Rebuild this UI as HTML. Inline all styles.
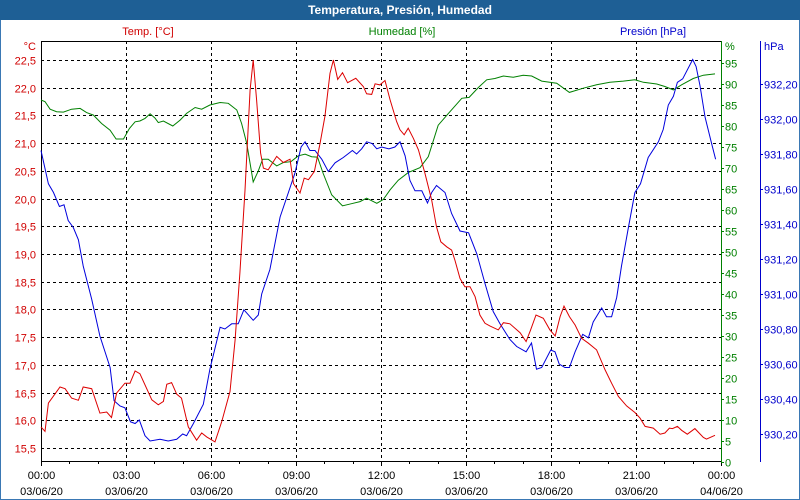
<!DOCTYPE html>
<html><head><meta charset="utf-8"><style>
html,body{margin:0;padding:0;background:#fff}
svg{display:block;font-family:"Liberation Sans","DejaVu Sans",sans-serif}
</style></head><body>
<svg id="c" width="800" height="500" viewBox="0 0 800 500">
<rect x="0" y="0" width="800" height="500" fill="#3a78b4"/>
<rect x="1" y="20" width="798" height="479" fill="#fff"/>
<rect x="0" y="0" width="800" height="20" fill="#1e5f95"/>
<text x="400" y="14" text-anchor="middle" fill="#fff" font-weight="bold" font-size="12">Temperatura, Presión, Humedad</text>
<text x="148" y="35" text-anchor="middle" fill="#d00000" font-size="11">Temp. [°C]</text>
<text x="402" y="35" text-anchor="middle" fill="#008000" font-size="11">Humedad [%]</text>
<text x="653" y="35" text-anchor="middle" fill="#0000cc" font-size="11">Presión [hPa]</text>
<text x="36" y="50" text-anchor="end" fill="#d00000" font-size="11">°C</text>
<text x="725" y="50" fill="#008000" font-size="11">%</text>
<text x="764" y="50" fill="#0000cc" font-size="11">hPa</text>
<g id="grid"></g>
<g id="axes"></g>
<g id="series"></g>
</svg>
<script>
const xTickLabels=["00:00","03:00","06:00","09:00","12:00","15:00","18:00","21:00","00:00"];
const xDateLabels=["03/06/20","03/06/20","03/06/20","03/06/20","03/06/20","03/06/20","03/06/20","03/06/20","04/06/20"];
const tempTicks=[15.5,16,16.5,17,17.5,18,18.5,19,19.5,20,20.5,21,21.5,22,22.5];
const humTicks=[0,5,10,15,20,25,30,35,40,45,50,55,60,65,70,75,80,85,90,95];
const presTicks=[930.2,930.4,930.6,930.8,931.0,931.2,931.4,931.6,931.8,932.0,932.2];

const tempHours=[0,0.14,0.26,0.67,0.85,1.08,1.32,1.49,1.79,2.08,2.32,2.49,2.67,2.96,3.14,3.32,3.49,3.91,4.14,4.32,4.44,4.61,4.79,4.96,5.2,5.49,5.67,5.85,6.14,6.38,6.67,6.85,7.02,7.2,7.38,7.49,7.61,7.75,7.85,8.02,8.32,8.55,8.79,8.91,9.14,9.29,9.44,9.65,9.85,10.02,10.2,10.32,10.47,10.64,10.82,11.11,11.38,11.49,11.67,11.79,11.96,12.14,12.32,12.55,12.67,12.82,12.96,13.14,13.32,13.55,13.79,13.96,14.11,14.32,14.49,14.61,14.79,14.96,15.14,15.32,15.49,15.67,15.85,16.14,16.32,16.55,16.91,17.12,17.28,17.47,17.73,17.96,18.15,18.32,18.46,18.65,18.85,19.08,19.32,19.61,19.91,20.14,20.38,20.67,20.96,21.14,21.32,21.61,21.85,22.02,22.18,22.29,22.46,22.61,22.81,23.08,23.38,23.49,23.79];
const tempValues=[15.88,15.8,16.31,16.6,16.57,16.4,16.36,16.6,16.57,16.13,16.15,16.05,16.49,16.67,16.67,16.89,16.84,16.37,16.28,16.34,16.65,16.68,16.47,16.4,15.88,15.64,15.77,15.7,15.61,15.98,16.52,17.45,18.66,20.15,21.96,22.5,21.78,20.82,20.55,20.52,20.76,20.65,20.71,20.27,20.1,20.37,20.34,20.49,21.0,21.48,22.26,22.5,22.15,22.27,22.09,22.17,22.02,21.89,21.88,22.07,22.05,22.13,21.78,21.39,21.24,21.15,21.27,21.09,20.88,20.46,19.97,19.49,19.22,19.13,19.07,18.89,18.56,18.41,18.41,18.23,17.9,17.75,17.7,17.63,17.76,17.74,17.58,17.42,17.63,17.9,17.84,17.63,17.52,17.87,18.06,17.87,17.72,17.48,17.39,17.27,16.91,16.67,16.43,16.26,16.14,16.04,15.89,15.86,15.75,15.77,15.86,15.85,15.89,15.82,15.75,15.85,15.69,15.66,15.73];

const humHours=[0,0.14,0.32,0.55,0.79,1.08,1.38,1.61,1.85,2.14,2.44,2.65,2.91,3.12,3.32,3.49,3.67,3.85,4.02,4.14,4.32,4.65,4.91,5.14,5.44,5.67,5.96,6.32,6.61,6.91,7.08,7.26,7.49,7.67,7.82,8.02,8.32,8.55,8.82,9.08,9.32,9.55,9.76,9.96,10.26,10.64,10.96,11.26,11.49,11.85,12.08,12.32,12.61,12.96,13.38,13.67,14.02,14.38,14.85,15.11,15.44,15.73,16.02,16.32,16.67,17.02,17.32,17.67,18.2,18.65,19.14,19.61,20.08,20.55,20.96,21.26,21.73,22.02,22.32,22.61,23.02,23.38,23.79];
const humValues=[86.2,85.8,84.0,83.4,83.3,84.0,84.2,83.2,82.6,80.6,79.0,76.9,76.9,79.4,81.0,81.2,81.8,82.9,81.9,80.8,81.2,80.0,81.4,83.0,84.4,84.0,85.0,85.6,85.4,83.8,80.6,75.9,66.7,69.3,72.1,72.1,70.5,71.3,71.5,72.9,73.3,72.7,72.6,68.7,63.6,61.0,61.5,62.0,62.8,61.6,62.5,64.8,67.1,68.9,70.1,72.7,80.2,83.0,86.6,86.8,89.2,91.0,91.3,91.9,91.6,92.1,91.9,90.7,90.2,88.0,89.0,89.8,90.4,90.7,91.0,90.4,90.0,89.4,88.6,89.8,91.3,92.1,92.4];

const presHours=[0,0.26,0.44,0.65,0.81,0.96,1.14,1.32,1.49,1.79,2.08,2.44,2.58,2.79,2.96,3.16,3.32,3.47,3.67,3.85,4.2,4.49,4.79,5.0,5.14,5.38,5.73,5.96,6.32,6.49,6.73,6.96,7.16,7.49,7.67,7.79,8.08,8.44,8.73,8.96,9.18,9.32,9.49,9.67,9.91,10.14,10.38,10.67,10.99,11.14,11.32,11.49,11.69,11.85,12.02,12.28,12.49,12.67,12.85,13.02,13.2,13.44,13.64,13.79,13.96,14.26,14.49,14.79,15.09,15.38,15.67,15.96,16.2,16.55,16.79,17.12,17.31,17.49,17.67,17.99,18.14,18.29,18.49,18.65,18.85,19.12,19.32,19.49,19.79,19.96,20.14,20.32,20.49,20.73,20.96,21.16,21.43,21.79,21.96,22.14,22.32,22.46,22.65,23.0,23.12,23.26,23.44,23.67,23.81];
const presValues=[931.82,931.63,931.58,931.50,931.51,931.42,931.38,931.31,931.16,930.97,930.76,930.58,930.39,930.36,930.35,930.27,930.26,930.28,930.19,930.16,930.17,930.16,930.17,930.2,930.19,930.26,930.37,930.57,930.81,930.8,930.83,930.83,930.91,930.85,930.88,931.0,931.14,931.44,931.58,931.69,931.84,931.87,931.82,931.82,931.77,931.70,931.75,931.78,931.82,931.80,931.83,931.87,931.86,931.83,931.84,931.83,931.84,931.87,931.79,931.65,931.59,931.59,931.52,931.58,931.62,931.58,931.46,931.36,931.35,931.23,931.06,930.90,930.83,930.74,930.70,930.67,930.72,930.57,930.58,930.68,930.67,930.60,930.58,930.58,930.67,930.77,930.75,930.84,930.92,930.87,930.87,930.98,931.16,931.38,931.58,931.63,931.78,931.87,931.94,932.08,932.13,932.21,932.23,932.34,932.30,932.19,932.01,931.86,931.77];

const NS="http://www.w3.org/2000/svg";
const L=41,R=721,T=41,B=461;
const xS=h=>L+(R-L)*h/24;
const yT=t=>60+(22.5-t)*55.43;
const yH=v=>462-v*4.2;
const yP=p=>84+(932.2-p)*175;
function mk(tag,attrs,parent){const e=document.createElementNS(NS,tag);for(const k in attrs)e.setAttribute(k,attrs[k]);parent.appendChild(e);return e;}
const grid=document.getElementById('grid'),axes=document.getElementById('axes'),series=document.getElementById('series');
tempTicks.forEach(t=>{
  const y=Math.round(yT(t))+0.5;
  const g=mk('line',{x1:L,x2:R,y1:y,y2:y,stroke:'#000','stroke-dasharray':'3,3'},grid);
  
  
  const tx=mk('text',{x:36,y:y+4,'text-anchor':'end',fill:'#d00000','font-size':11},axes);
  tx.textContent=t.toFixed(1).replace('.',',');
  
  
});
xTickLabels.forEach((lab,i)=>{
  const x=Math.round(xS(i*3))+0.5;
  if(i>0&&i<8){const g=mk('line',{x1:x,x2:x,y1:T,y2:B,stroke:'#000','stroke-dasharray':'3,3'},grid);
  
  }
  const a=mk('text',{x:x,y:479,'text-anchor':'middle',fill:'#000','font-size':11},axes);a.textContent=lab;
  
  
  const b=mk('text',{x:x,y:495,'text-anchor':'middle',fill:'#000','font-size':11},axes);b.textContent=xDateLabels[i];
  
  
});
for(let h=0;h<=24;h++){const x=Math.round(xS(h))+0.5;const tk=mk('line',{x1:x,x2:x,y1:B,y2:B+(h%3==0?5:3),stroke:'#000'},axes);
  
  }
humTicks.forEach(v=>{const y=Math.round(yH(v))+0.5;
  const tk=mk('line',{x1:R,x2:R+3,y1:y,y2:y,stroke:'#008000'},axes);
  
  
  const tx=mk('text',{x:725,y:y+4,fill:'#008000','font-size':11},axes);tx.textContent=v;
  
  });
presTicks.forEach(p=>{const y=Math.round(yP(p))+0.5;
  const tk=mk('line',{x1:760,x2:763,y1:y,y2:y,stroke:'#0000cc'},axes);
  
  
  const tx=mk('text',{x:764,y:y+4,fill:'#0000cc','font-size':11},axes);tx.textContent=p.toFixed(2).replace('.',',');
  
  });
const fr=mk('path',{d:`M${R},${T+0.5}H${L+0.5}V${B+0.5}H${R}`,fill:'none',stroke:'#000'},axes);


const ga=mk('line',{x1:R+0.5,x2:R+0.5,y1:T,y2:B+1,stroke:'#008000','stroke-width':1},axes);


const pa=mk('line',{x1:760.5,x2:760.5,y1:T,y2:B+1,stroke:'#0000cc','stroke-width':1},axes);


function line(hs,vs,yf,col,name){
  const d=hs.map((h,i)=>(i?'L':'M')+xS(h).toFixed(1)+','+yf(vs[i]).toFixed(1)).join('');
  const p=mk('path',{d:d,fill:'none',stroke:col,'stroke-width':1},series);
  
  
}
line(humHours,humValues,yH,'#008000','humidity-line');
line(presHours,presValues,yP,'#0000dd','pressure-line');
line(tempHours,tempValues,yT,'#dd0000','temperature-line');
</script>
</body></html>
